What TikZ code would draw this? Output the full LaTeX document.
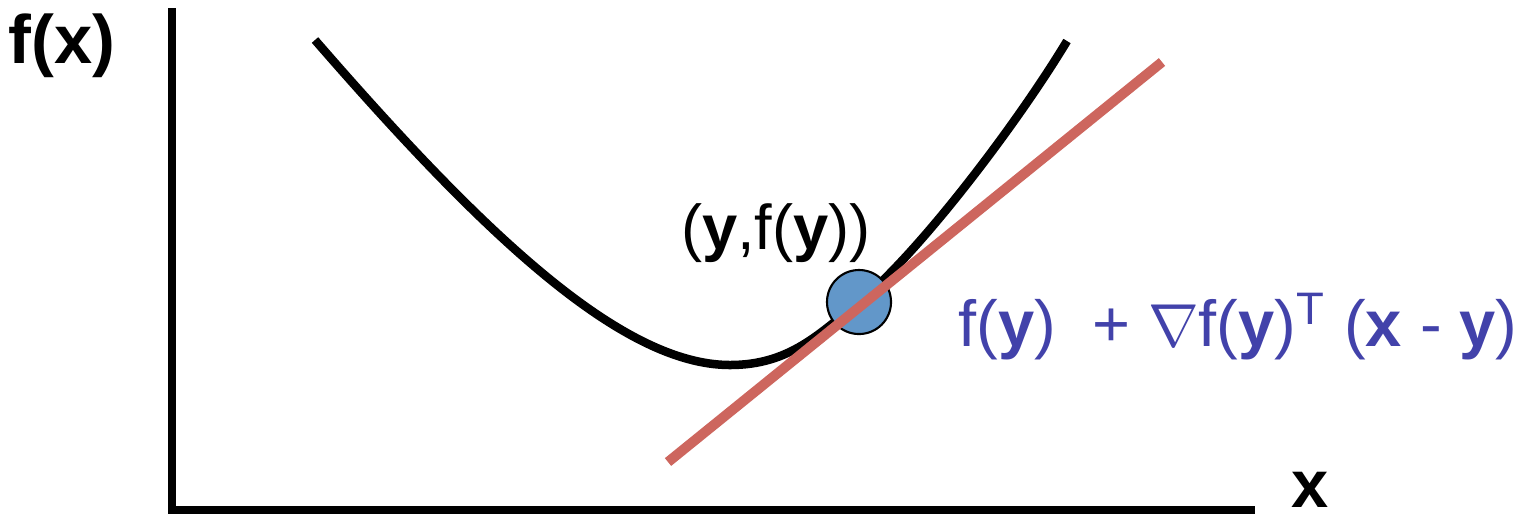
\documentclass[tikz,border=0pt]{standalone}
\usepackage{fontspec}
\setmainfont{Liberation Sans}
\definecolor{tangentred}{RGB}{205,102,94}
\definecolor{pointblue}{RGB}{98,151,201}
\definecolor{labelblue}{RGB}{66,66,170}

\begin{document}
\begin{tikzpicture}[x=0.01cm, y=-0.01cm,
  axisline/.style={line width=0.085cm, black},
  curveline/.style={line width=0.085cm, black},
  tangentline/.style={line width=0.1cm, tangentred},
  ptdot/.style={circle, draw=black, line width=0.6pt, fill=pointblue, minimum size=0.64cm, inner sep=0pt}]
\useasboundingbox (0,0) rectangle (1531,520);
\coordinate (ytop) at (172,8);
\coordinate (origin) at (172,510);
\coordinate (xend) at (1255,510);
\coordinate (tl) at (668,462);
\coordinate (tr) at (1162,62);
\coordinate (cstart) at (315,40);
\coordinate (cmin) at (730,365);
\coordinate (cend) at (1067,41);

\draw[axisline] (ytop) -- (origin) -- (xend);
\draw[curveline] (cstart) .. controls (480,230) and (620,365) .. (cmin)
  .. controls (790,365) and (820,333) .. (859,302)
  .. controls (919,253) and (1017,124) .. (cend);
\node[ptdot] (pt) at (859,302) {};
\draw[tangentline] (tl) -- (tr);

\node (fx) at (62,46) {\fontsize{19.5}{24}\selectfont\bfseries f(x)};
\node[inner sep=0pt] (xlabel) at (1310,490) {\fontsize{19}{23}\selectfont\bfseries x};
\node (ptlabel) at (776,233) {\fontsize{18}{22}\selectfont(\textbf{y},f(\textbf{y}))};
\node[text=labelblue] (tangentlabel) at (1238,327) {\fontsize{18.5}{22}\selectfont f(\textbf{y})\ \ + $\nabla$f(\textbf{y})\textsuperscript{T} (\textbf{x} - \textbf{y})};
\end{tikzpicture}
\end{document}
